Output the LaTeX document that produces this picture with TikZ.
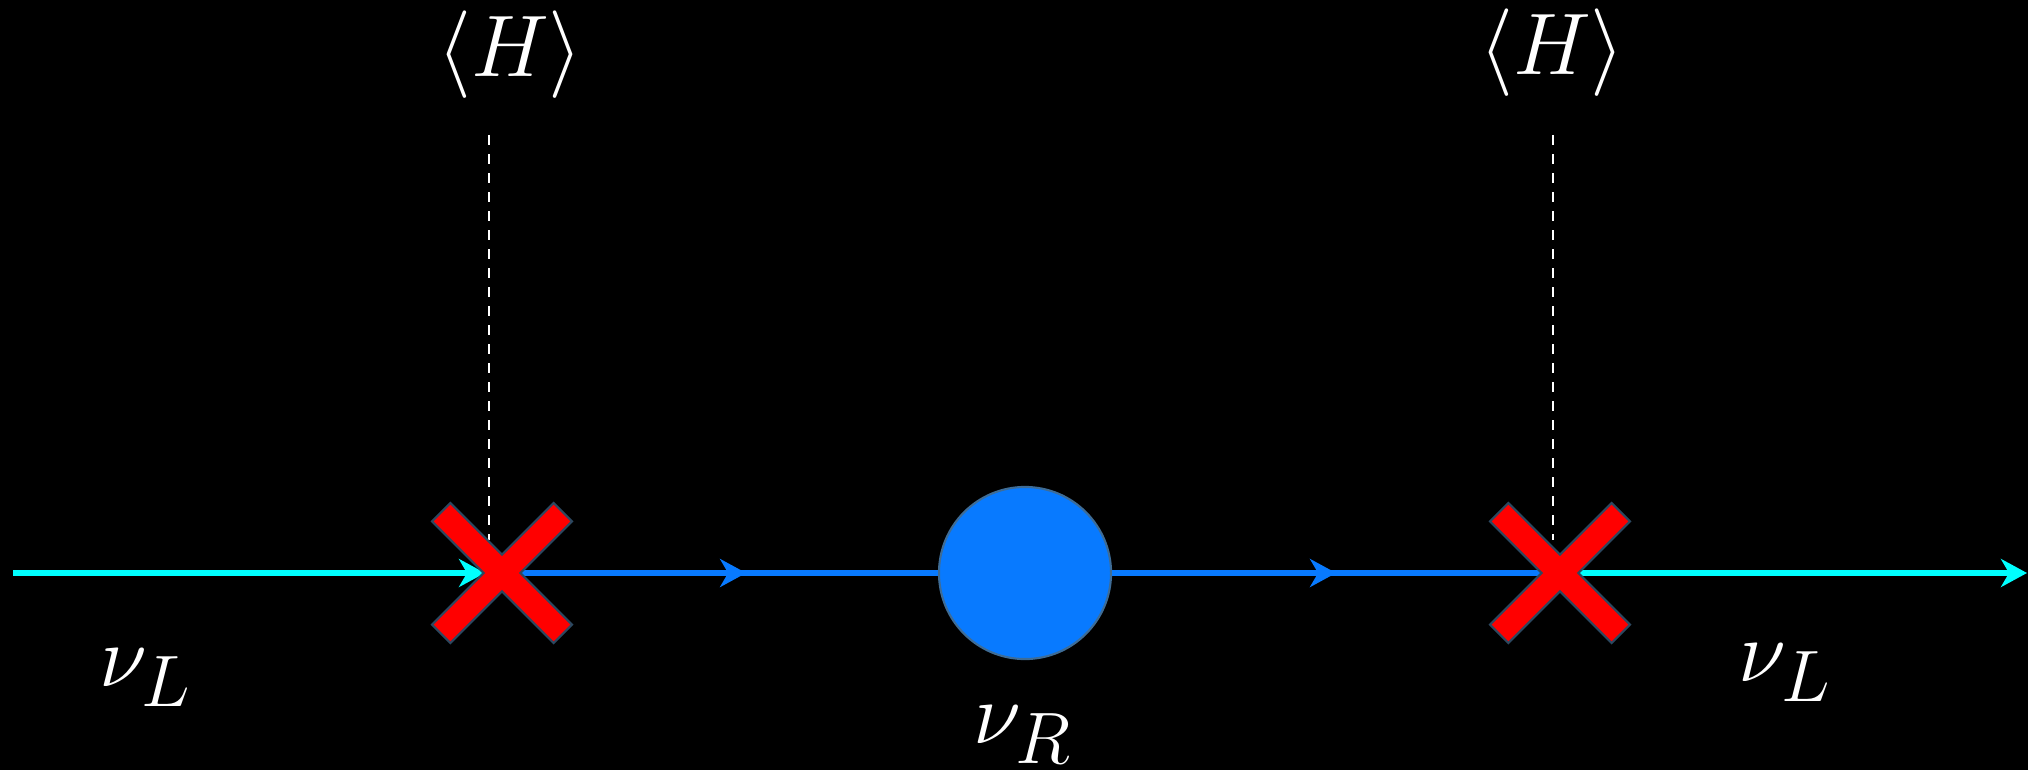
\documentclass[tikz,border=0pt]{standalone}
\usepackage{xcolor}
\usepackage{tikz}
\usetikzlibrary{arrows.meta, positioning, decorations.markings}
\usepackage{amsmath, amssymb}
\definecolor{nucyan}{RGB}{0,255,255}
\definecolor{nubleu}{RGB}{8,122,255}
\definecolor{nubord}{RGB}{62,108,150}
\definecolor{croixrouge}{RGB}{255,0,0}
\definecolor{croixbord}{RGB}{44,72,96}

\tikzset{
  nutip/.style={-{Stealth[length=0.26cm, width=0.28cm, inset=0.08cm]}},
  ligneL/.style={draw=nucyan, line width=1.45pt},
  ligneR/.style={draw=nubleu, line width=1.45pt},
  vev/.style={draw=white, line width=0.6pt, dash pattern=on 0.1cm off 0.09cm},
  etiq/.style={text=white, inner sep=0pt, font=\fontsize{28}{32}\selectfont},
  midfleche/.style={postaction={decorate}, decoration={markings,
      mark=at position #1 with {\arrow[nubleu]{Stealth[length=0.26cm, width=0.28cm, inset=0.08cm]}}}},
  masse/.pic={
    \filldraw[fill=croixrouge, draw=croixbord, line width=0.6pt, rotate=45]
      (86,13) -- (13,13) -- (13,86) -- (-13,86) -- (-13,13) -- (-86,13) --
      (-86,-13) -- (-13,-13) -- (-13,-86) -- (13,-86) -- (13,-13) -- (86,-13) -- cycle;
  }
}

\begin{document}
\begin{tikzpicture}[x=0.01cm, y=-0.01cm]
  % fond noir, aux dimensions de la figure
  \fill[black] (0,0) rectangle (2028,770);
  \useasboundingbox (0,0) rectangle (2028,770);

  % points d'insertion du vev
  \coordinate (vl) at (502,573);
  \coordinate (vr) at (1560,573);
  \coordinate (debut) at (13,573);
  \coordinate (fin) at (2027,573);
  \coordinate (hl) at (489,135);
  \coordinate (hr) at (1553,135);
  \coordinate (hlb) at (489,540);
  \coordinate (hrb) at (1553,540);

  \node[circle, minimum size=1.72cm, inner sep=0pt, fill=nubleu, draw=nubord,
        line width=0.6pt] (nR) at (1025,573) {};

  % propagateurs
  \draw[ligneL, nutip, shorten >=0.17cm] (debut) -- (vl);
  \draw[ligneR, midfleche=0.56] (vl) -- (nR.west);
  \draw[ligneR, midfleche=0.5] (nR.east) -- (vr);
  \draw[ligneL, nutip] (vr) -- (fin);

  % lignes du vev
  \draw[vev] (hl) -- (hlb);
  \draw[vev] (hr) -- (hrb);

  \pic at (vl) {masse};
  \pic at (vr) {masse};

  % etiquettes
  \node[etiq] (hgauche) at (510,55) {$\langle H\rangle$};
  \node[etiq] (hdroite) at (1552,53) {$\langle H\rangle$};
  \node[etiq] (nuLg) at (146,678) {$\nu_L$};
  \node[etiq] (nuLd) at (1785,673) {$\nu_L$};
  \node[etiq] (nuRlab) at (1023,735) {$\nu_R$};
\end{tikzpicture}
\end{document}
